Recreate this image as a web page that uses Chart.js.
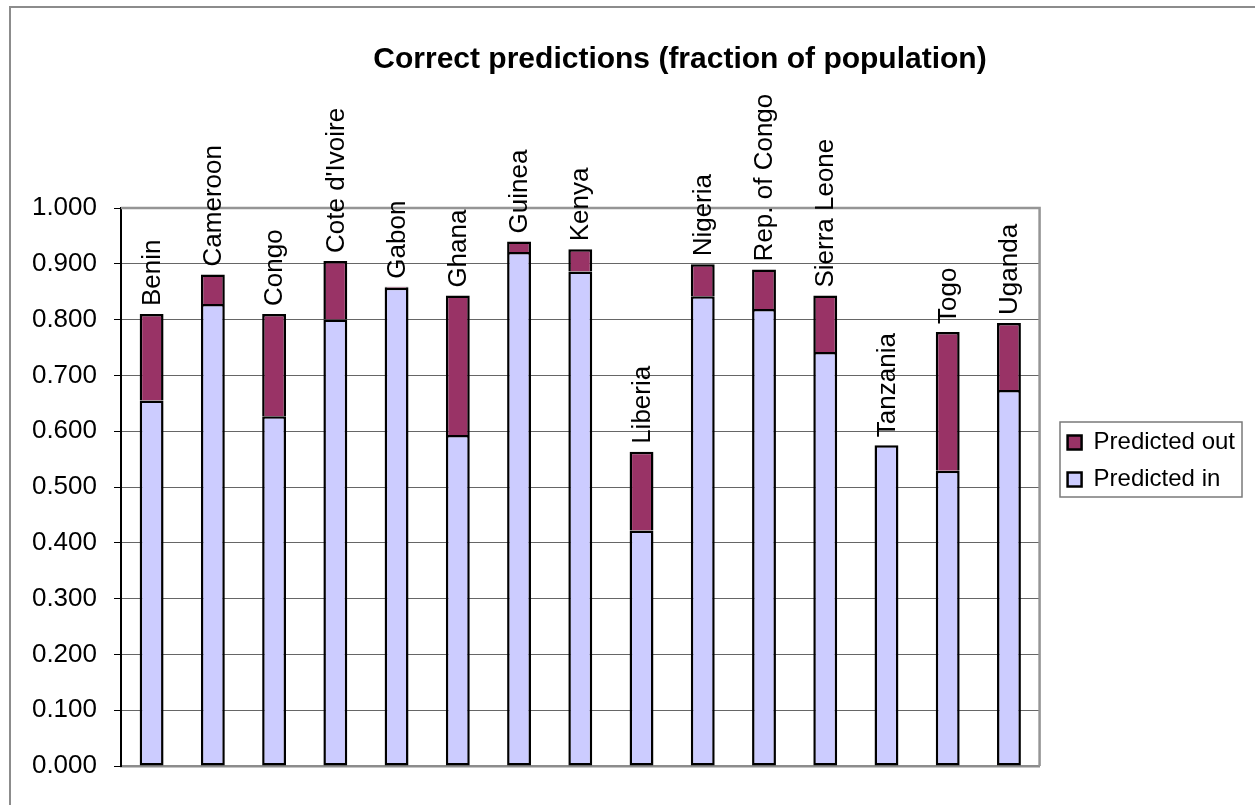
<!DOCTYPE html>
<html>
<head>
<meta charset="utf-8">
<script src="https://cdn.jsdelivr.net/npm/chart.js@4.4.0/dist/chart.umd.min.js"></script>
<style>
  html, body { margin: 0; padding: 0; background: #fff; }
  #wrap { width: 1255px; height: 805px; position: relative; }
</style>
</head>
<body>
<div id="wrap"><canvas id="predChart"></canvas></div>
<script>
// --- data ---
const countries = ['Benin', 'Cameroon', 'Congo', "Cote d'Ivoire", 'Gabon', 'Ghana', 'Guinea', 'Kenya',
    'Liberia', 'Nigeria', 'Rep. of Congo', 'Sierra Leone', 'Tanzania', 'Togo', 'Uganda'];
const predictedIn = [0.655, 0.828, 0.627, 0.800, 0.857, 0.593, 0.921, 0.886,
    0.422, 0.842, 0.819, 0.742, 0.575, 0.529, 0.674];
const predictedOut = [0.155, 0.053, 0.183, 0.105, 0.002, 0.250, 0.019, 0.040,
    0.141, 0.057, 0.071, 0.101, 0.000, 0.249, 0.120];
const titleText = 'Correct predictions (fraction of population)';

const FONT = "'Liberation Sans', Arial, sans-serif";

// --- frame, plot border, title and rotated country labels ---
const decor = {
    id: 'decor',
    afterLayout(chart) {
        // legend sits a bit above the middle of the plot, with a gap from it
        if (chart.legend) {
            chart.legend.top -= 26;
            chart.legend.bottom -= 26;
            chart.legend.left += 15;
            chart.legend.right += 15;
        }
    },
    beforeDraw(chart) {
        const c = chart.ctx;
        c.save();
        c.strokeStyle = '#8c8c8c';
        c.lineWidth = 2;
        c.beginPath();
        c.moveTo(10, 805);
        c.lineTo(10, 7);
        c.lineTo(1255, 7);
        c.stroke();
        c.restore();
    },
    afterDatasetsDraw(chart) {
        const c = chart.ctx;
        const a = chart.chartArea;
        c.save();
        // plot area top/right border
        c.strokeStyle = '#959595';
        c.lineWidth = 2.5;
        c.beginPath();
        c.moveTo(a.left, a.top);
        c.lineTo(a.right, a.top);
        c.lineTo(a.right, a.bottom);
        c.stroke();

        // title
        c.fillStyle = '#000';
        c.font = 'bold 30px ' + FONT;
        c.textAlign = 'center';
        c.textBaseline = 'middle';
        c.fillText(titleText, 680, 60);

        // labels above each stack
        const m0 = chart.getDatasetMeta(0);
        const m1 = chart.getDatasetMeta(1);
        c.font = '26px ' + FONT;
        c.textAlign = 'left';
        countries.forEach((name, i) => {
            const x = m0.data[i].x;
            const top = Math.min(m0.data[i].y, m1.data[i].y);
            c.save();
            c.translate(x + 1, top - 8);
            c.rotate(-Math.PI / 2);
            c.fillText(name, 0, 0);
            c.restore();
        });

        // frame around the legend
        c.strokeStyle = '#7a7a7a';
        c.lineWidth = 1.5;
        c.strokeRect(1060, 422, 182, 75);
        c.restore();
    }
};

const ctx = document.getElementById('predChart').getContext('2d');
const chart = new Chart(ctx, {
    type: 'bar',
    data: {
        labels: countries,
        datasets: [
            {
                label: 'Predicted in',
                data: predictedIn,
                backgroundColor: '#CCCCFF',
                borderColor: '#000',
                borderWidth: 2.5,
                borderSkipped: false,
                barPercentage: 0.39,
                categoryPercentage: 1
            },
            {
                label: 'Predicted out',
                data: predictedOut,
                backgroundColor: '#993366',
                borderColor: '#000',
                borderWidth: 2.5,
                borderSkipped: 'bottom',
                barPercentage: 0.39,
                categoryPercentage: 1
            }
        ]
    },
    options: {
        responsive: true,
        maintainAspectRatio: false,
        animation: false,
        layout: { padding: { left: 0, top: 208, right: 25, bottom: 39 } },
        plugins: {
            legend: {
                position: 'right',
                reverse: true,
                labels: {
                    color: '#000',
                    font: { family: FONT, size: 24 },
                    boxWidth: 14,
                    boxHeight: 14,
                    padding: 13
                }
            },
            title: { display: false },
            tooltip: { enabled: false }
        },
        scales: {
            x: {
                stacked: true,
                grid: { display: false, drawTicks: false },
                ticks: { display: false },
                border: { color: '#8c8c8c', width: 2.5 },
                afterFit(scale) { scale.height = 0; }
            },
            y: {
                stacked: true,
                min: 0,
                max: 1,
                ticks: {
                    stepSize: 0.1,
                    color: '#000',
                    font: { family: FONT, size: 26 },
                    padding: 17,
                    callback: v => Number(v).toFixed(3)
                },
                grid: { color: '#666', lineWidth: 1, tickLength: 7, tickColor: '#000' },
                border: { color: '#000', width: 2 },
                afterFit(scale) { scale.width = 121; }
            }
        }
    },
    plugins: [decor]
});
</script>
</body>
</html>
